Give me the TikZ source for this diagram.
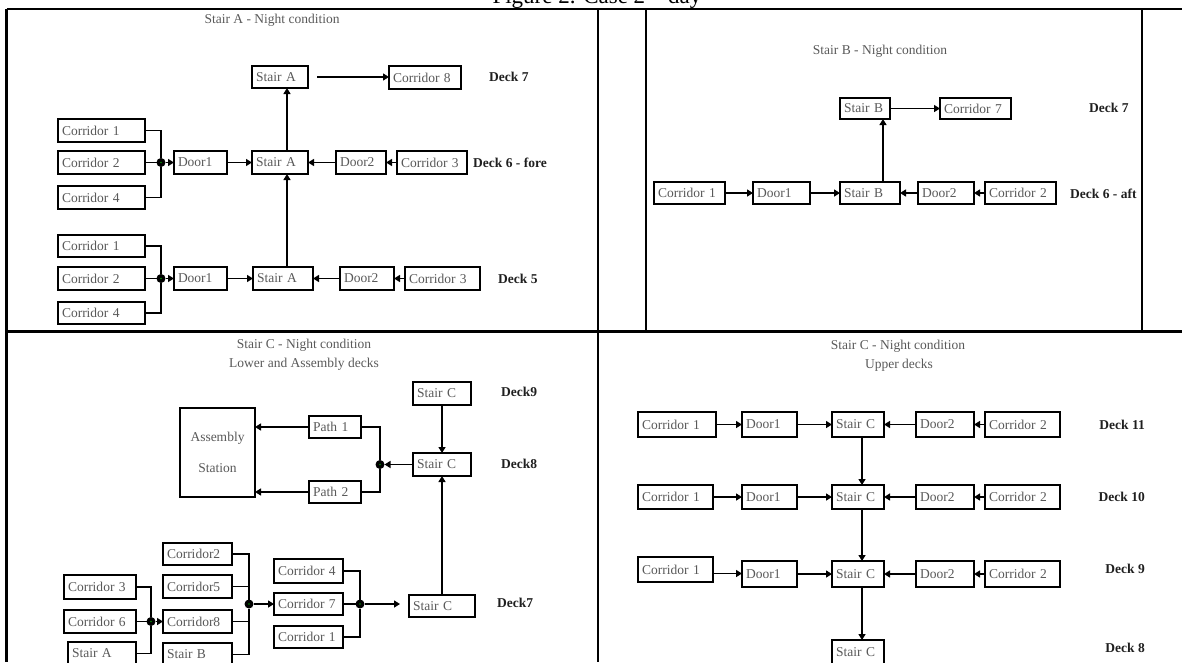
\documentclass[tikz,border=0pt]{standalone}
\usepackage{fontspec}
\setmainfont{Liberation Serif}
\usetikzlibrary{arrows.meta}
\definecolor{txt}{gray}{0.35}
\definecolor{dk}{gray}{0.12}
\tikzset{
 box/.style={draw=black, line width=1.7pt, fill=white, inner xsep=4pt, inner ysep=0pt, outer sep=0pt, align=left, text=txt, font=\fontsize{13.5}{16}\selectfont},
 deck/.style={text=dk, font=\fontsize{13.5}{16}\selectfont\bfseries, inner sep=0pt},
 ttl/.style={text=txt, font=\fontsize{13.5}{16}\selectfont, inner sep=0pt},
 con/.style={line width=1.4pt},
 arr/.style={line width=1.4pt, -{Triangle[length=6pt,width=7pt]}},
 jdot/.style={circle, fill=black, minimum size=9pt, inner sep=0pt, outer sep=0pt},
 framel/.style={line width=2.8pt},
 thinl/.style={line width=1.6pt},
}
\newcommand\bx[6]{%
 \pgfmathsetmacro\bxw{#4-#2-8}%
 \pgfmathsetmacro\bxh{#5-#3}%
 \node[box,anchor=north west,text width=\bxw pt,minimum height=\bxh pt] (#1) at (#2,#3) {#6};}
\newcommand\gdot[1]{\fill[green!55!black] (#1) circle (0.9);}
\begin{document}
\begin{tikzpicture}[x=1pt,y=-1pt]
\useasboundingbox (0,0) rectangle (1182,662);
\clip (0,0) rectangle (1182,662);
% frame
\node[font=\fontsize{23}{26}\selectfont, anchor=base, inner sep=0pt, text=black] (fig) at (597,3) {Figure 2. Case 2 -- day};
\draw[framel] (6.5,9) -- (1182,9);
\draw[framel] (6.5,9) -- (6.5,662);
\draw[framel] (598,9) -- (598,662);
\draw[framel] (6.5,331.5) -- (1182,331.5);
\draw[thinl] (646,9) -- (646,331);
\draw[thinl] (1142,9) -- (1142,331);

% ================= Panel A =================
\node[ttl] (tA) at (272,20) {Stair A - Night condition};
\coordinate (aV) at (287,0);
\bx{aS7}{252}{66}{308}{88}{Stair A}
\bx{aC8}{389}{66}{461}{89}{Corridor 8}
\node[deck,anchor=west] (aD7) at (489,77) {Deck 7};
\bx{aC1a}{58}{119}{145}{142}{Corridor 1}
\bx{aC2a}{58}{151}{145}{174}{Corridor 2}
\bx{aC4a}{58}{186}{145}{209}{Corridor 4}
\bx{aDr1a}{174}{151}{227}{174}{Door1}
\bx{aS6}{252}{151}{308}{174}{Stair A}
\bx{aDr2a}{336}{151}{386}{174}{Door2}
\bx{aC3a}{397}{151}{467}{174}{Corridor 3}
\node[deck,anchor=west] (aD6) at (473,163) {Deck 6 - fore};
\node[jdot] (aJa) at (161,162.5) {};
\bx{aC1b}{58}{235}{145}{257}{Corridor 1}
\bx{aC2b}{58}{267}{145}{290}{Corridor 2}
\bx{aC4b}{58}{302}{145}{324}{Corridor 4}
\bx{aDr1b}{174}{267}{227}{290}{Door1}
\bx{aS5}{253}{267}{313}{290}{Stair A}
\bx{aDr2b}{340}{267}{394}{290}{Door2}
\bx{aC3b}{405}{267}{480}{290}{Corridor 3}
\node[deck,anchor=west] (aD5) at (498,279) {Deck 5};
\node[jdot] (aJb) at (161,278.5) {};
\gdot{aJa}\gdot{aJb}
\draw[con] (aC1a.east) -| (aJa);
\draw[con] (aC2a.east) -- (aJa);
\draw[con] (aC4a.east) -| (aJa);
\draw[arr] (aJa.east) -- (aDr1a.west);
\draw[arr] (aDr1a.east) -- (aS6.west);
\draw[arr] (aDr2a.west) -- (aS6.east);
\draw[arr] (aC3a.west) -- (aDr2a.east);
\draw[con] (aC1b.east) -| (aJb);
\draw[con] (aC2b.east) -- (aJb);
\draw[con] (aC4b.east) -| (aJb);
\draw[arr] (aJb.east) -- (aDr1b.west);
\draw[arr] (aDr1b.east) -- (aS5.west);
\draw[arr] (aDr2b.west) -- (aS5.east);
\draw[arr] (aC3b.west) -- (aDr2b.east);
\draw[arr] (aS5.north -| aV) -- (aS6.south -| aV);
\draw[arr] (aS6.north -| aV) -- (aS7.south -| aV);
\draw[arr, shorten <=9pt] (aS7.east) -- (aS7.east -| aC8.west);

% ================= Panel B =================
\node[ttl] (tB) at (880,51) {Stair B - Night condition};
\coordinate (bV) at (883,0);
\bx{bS7}{840}{98}{890}{119}{Stair B}
\bx{bC7}{940}{98}{1011}{119}{Corridor 7}
\node[deck,anchor=west] (bD7) at (1089,108) {Deck 7};
\bx{bC1}{654}{182}{725}{204}{Corridor 1}
\bx{bDr1}{753}{182}{810}{204}{Door1}
\bx{bS6}{840}{182}{900}{204}{Stair B}
\bx{bDr2}{918}{182}{974}{204}{Door2}
\bx{bC2}{985}{182}{1056}{204}{Corridor 2}
\node[deck,anchor=west] (bD6) at (1070,194) {Deck 6 - aft};
\draw[arr] (bC1.east) -- (bDr1.west);
\draw[arr] (bDr1.east) -- (bS6.west);
\draw[arr] (bDr2.west) -- (bS6.east);
\draw[arr] (bC2.west) -- (bDr2.east);
\draw[arr] (bS6.north -| bV) -- (bS7.south -| bV);
\draw[arr] (bS7.east) -- (bC7.west);

% ================= Panel C lower =================
\node[ttl] (tC1) at (304,345) {Stair C - Night condition};
\node[ttl] (tC2) at (304,364) {Lower and Assembly decks};
\bx{cS9}{413}{382}{471}{405}{Stair C}
\node[deck,anchor=west] (cD9) at (501,392) {Deck9};
\node[box, anchor=north west, minimum width=75pt, minimum height=89pt, align=center, inner xsep=0pt] (cAs) at (180,408) {Assembly\\[15pt]Station};
\bx{cP1}{309}{416}{361}{438}{Path 1}
\bx{cP2}{309}{481}{361}{503}{Path 2}
\bx{cS8}{413}{453}{471}{476}{Stair C}
\node[deck,anchor=west] (cD8) at (501,464) {Deck8};
\node[jdot] (cJ0) at (380,464.5) {};
\gdot{cJ0}
\draw[arr] (cP1.west) -- (cP1.west -| cAs.east);
\draw[arr] (cP2.west) -- (cP2.west -| cAs.east);
\draw[con] (cP1.east) -| (cJ0);
\draw[con] (cP2.east) -| (cJ0);
\draw[arr] (cS8.west) -- (cJ0.east);
\draw[arr] (cS9.south) -- (cS8.north);
\bx{cS7}{409}{595}{475}{617}{Stair C}
\node[deck,anchor=west] (cD7) at (497,603) {Deck7};
\draw[arr] (cS7.north) -- (cS8.south);
\bx{cC2}{163}{543}{232}{565}{Corridor2}
\bx{cC5}{163}{575}{232}{598}{Corridor5}
\bx{cC8}{163}{610}{232}{633}{Corridor8}
\bx{cSB}{163}{643}{232}{666}{Stair B}
\bx{cC3}{64}{575}{136}{599}{Corridor 3}
\bx{cC6}{64}{610}{136}{633}{Corridor 6}
\bx{cSA}{68}{642}{136}{665}{Stair A}
\bx{cC4}{274}{559}{343}{583}{Corridor 4}
\bx{cC7}{274}{593}{343}{615}{Corridor 7}
\bx{cC1}{274}{626}{343}{648}{Corridor 1}
\node[jdot] (cJ1) at (151,621.5) {};
\node[jdot] (cJ2) at (249,604) {};
\node[jdot] (cJ3) at (360,604) {};
\gdot{cJ1}\gdot{cJ2}\gdot{cJ3}
\draw[con] (cC3.east) -| (cJ1);
\draw[con] (cC6.east) -- (cJ1);
\draw[con] (cSA.east) -| (cJ1);
\draw[arr] (cJ1.east) -- (cC8.west);
\draw[con] (cC2.east) -| (cJ2);
\draw[con] (cC5.east) -| (cJ2);
\draw[con] (cC8.east) -| (cJ2);
\draw[con] (cSB.east) -| (cJ2);
\draw[arr] (cJ2.east) -- (cC7.west);
\draw[con] (cC4.east) -| (cJ3);
\draw[con] (cC7.east) -- (cJ3);
\draw[con] (cC1.east) -| (cJ3);
\draw[arr, shorten >=9pt] (cJ3.east) -- (cJ3.east -| cS7.west);

% ================= Panel C upper =================
\node[ttl] (tD1) at (898,346) {Stair C - Night condition};
\node[ttl] (tD2) at (899,365) {Upper decks};
\coordinate (dV) at (862,0);
% deck 11
\bx{dC1a}{638}{412}{716}{437}{Corridor 1}
\bx{dDr1a}{742}{412}{797}{437}{Door1}
\bx{dSa}{832}{412}{884}{437}{Stair C}
\bx{dDr2a}{916}{412}{974}{437}{Door2}
\bx{dC2a}{985}{412}{1060}{437}{Corridor 2}
\node[deck,anchor=east] (dD11) at (1145,425) {Deck 11};
% deck 10
\bx{dC1b}{638}{485}{713}{509}{Corridor 1}
\bx{dDr1b}{742}{485}{797}{509}{Door1}
\bx{dSb}{832}{485}{884}{509}{Stair C}
\bx{dDr2b}{916}{485}{974}{509}{Door2}
\bx{dC2b}{985}{485}{1060}{509}{Corridor 2}
\node[deck,anchor=east] (dD10) at (1145,497) {Deck 10};
% deck 9
\bx{dC1c}{638}{557}{713}{582}{Corridor 1}
\bx{dDr1c}{742}{561}{797}{587}{Door1}
\bx{dSc}{832}{561}{884}{587}{Stair C}
\bx{dDr2c}{916}{561}{974}{587}{Door2}
\bx{dC2c}{985}{561}{1060}{587}{Corridor 2}
\node[deck,anchor=east] (dD9) at (1145,569) {Deck 9};
% deck 8
\bx{dSd}{832}{640}{884}{664}{Stair C}
\node[deck,anchor=east] (dD8) at (1145,648) {Deck 8};
\foreach \r in {a,b,c}{
 \draw[arr] (dDr1\r.east) -- (dDr1\r.east -| dS\r.west);
 \draw[arr] (dDr2\r.west) -- (dDr2\r.west -| dS\r.east);
 \draw[arr] (dC2\r.west) -- (dC2\r.west -| dDr2\r.east);
}
\draw[arr] (dC1a.east) -- (dC1a.east -| dDr1a.west);
\draw[arr] (dC1b.east) -- (dC1b.east -| dDr1b.west);
\draw[arr] ([yshift=-4pt]dC1c.east) -- ([yshift=-4pt]dC1c.east -| dDr1c.west);
\draw[arr] (dSa.south -| dV) -- (dSb.north -| dV);
\draw[arr] (dSb.south -| dV) -- (dSc.north -| dV);
\draw[arr] (dSc.south -| dV) -- (dSd.north -| dV);
\end{tikzpicture}
\end{document}
